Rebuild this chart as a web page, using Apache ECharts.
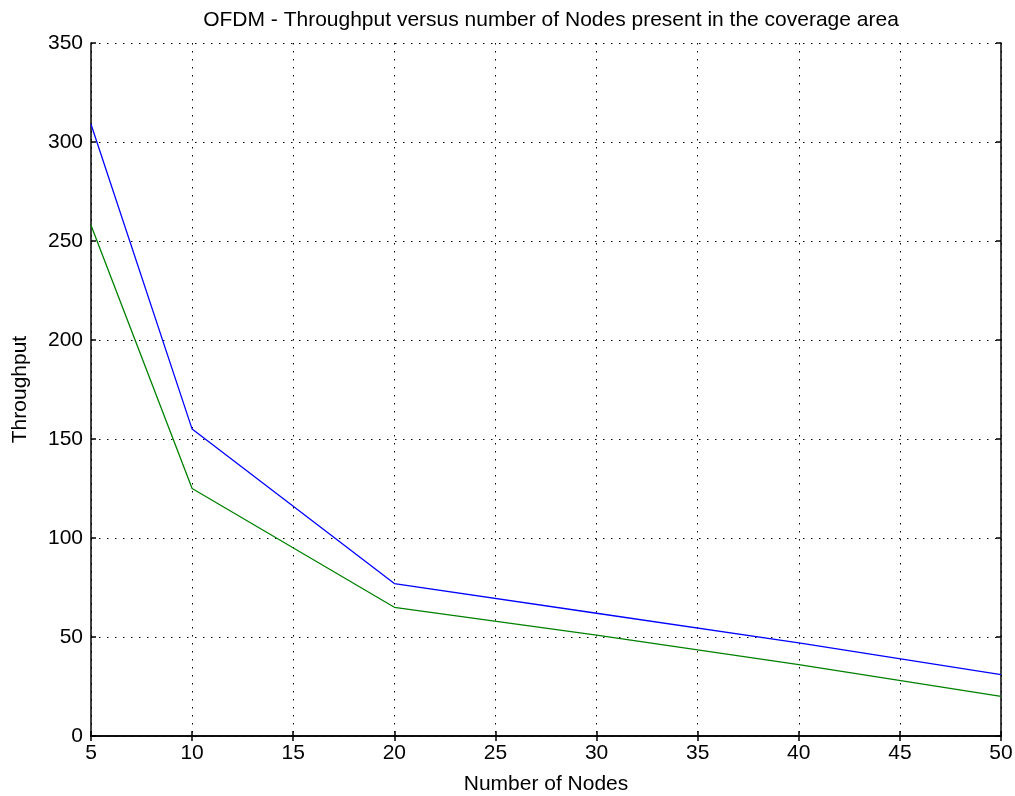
<!DOCTYPE html>
<html>
<head>
<meta charset="utf-8">
<script src="https://cdn.jsdelivr.net/npm/echarts@6/dist/echarts.min.js"></script>
<style>
  html, body { margin: 0; padding: 0; background: #fff; }
  #chart { width: 1015px; height: 796px; }
</style>
</head>
<body>
<div id="chart"></div>
<script>
const nodes = [5, 10, 20, 30, 40, 50];
const blueThroughput = [309, 155, 77, 62, 47, 31];
const greenThroughput = [258, 125, 65, 51, 36, 20];

const chart = echarts.init(document.getElementById('chart'));
const font = 'Liberation Sans, Arial, sans-serif';
const dotted = { color: '#000', width: 1, type: [1.5, 6.5] };
const frame = { show: true, lineStyle: { color: '#000', width: 1.5 } };
const tickIn = { show: true, inside: true, length: 5, lineStyle: { color: '#000', width: 1.5 } };

chart.setOption({
  animation: false,
  backgroundColor: '#fff',
  title: {
    text: 'OFDM - Throughput versus number of Nodes present in the coverage area',
    left: 546,
    textAlign: 'center',
    top: 5,
    textStyle: { fontFamily: font, fontSize: 21, fontWeight: 'normal', color: '#000' },
  },
  grid: { left: 91, right: 14, top: 43, bottom: 60, outerBoundsMode: 'none', containLabel: false },
  xAxis: [
    {
      type: 'value',
      min: 5,
      max: 50,
      interval: 5,
      name: 'Number of Nodes',
      nameLocation: 'middle',
      nameGap: 38,
      nameTextStyle: { fontFamily: font, fontSize: 21, color: '#000' },
      axisLine: frame,
      axisTick: tickIn,
      axisLabel: { fontFamily: font, fontSize: 21, color: '#000', margin: 7 },
      splitLine: { show: true, lineStyle: dotted },
    },
    {
      type: 'value',
      position: 'top',
      min: 5,
      max: 50,
      interval: 5,
      axisLine: frame,
      axisTick: tickIn,
      axisLabel: { show: false },
      splitLine: { show: false },
    },
  ],
  yAxis: [
    {
      type: 'value',
      min: 0,
      max: 350,
      interval: 50,
      name: 'Throughput',
      nameLocation: 'middle',
      nameGap: 60,
      nameTextStyle: { fontFamily: font, fontSize: 21, color: '#000' },
      axisLine: frame,
      axisTick: tickIn,
      axisLabel: { fontFamily: font, fontSize: 21, color: '#000', margin: 8 },
      splitLine: { show: true, lineStyle: dotted },
    },
    {
      type: 'value',
      position: 'right',
      min: 0,
      max: 350,
      interval: 50,
      axisLine: frame,
      axisTick: tickIn,
      axisLabel: { show: false },
      splitLine: { show: false },
    },
  ],
  series: [
    {
      type: 'line',
      data: nodes.map((n, i) => [n, blueThroughput[i]]),
      showSymbol: false,
      lineStyle: { color: '#0000ff', width: 1.3 },
      itemStyle: { color: '#0000ff' },
    },
    {
      type: 'line',
      data: nodes.map((n, i) => [n, greenThroughput[i]]),
      showSymbol: false,
      lineStyle: { color: '#008000', width: 1.3 },
      itemStyle: { color: '#008000' },
    },
  ],
});
</script>
</body>
</html>
